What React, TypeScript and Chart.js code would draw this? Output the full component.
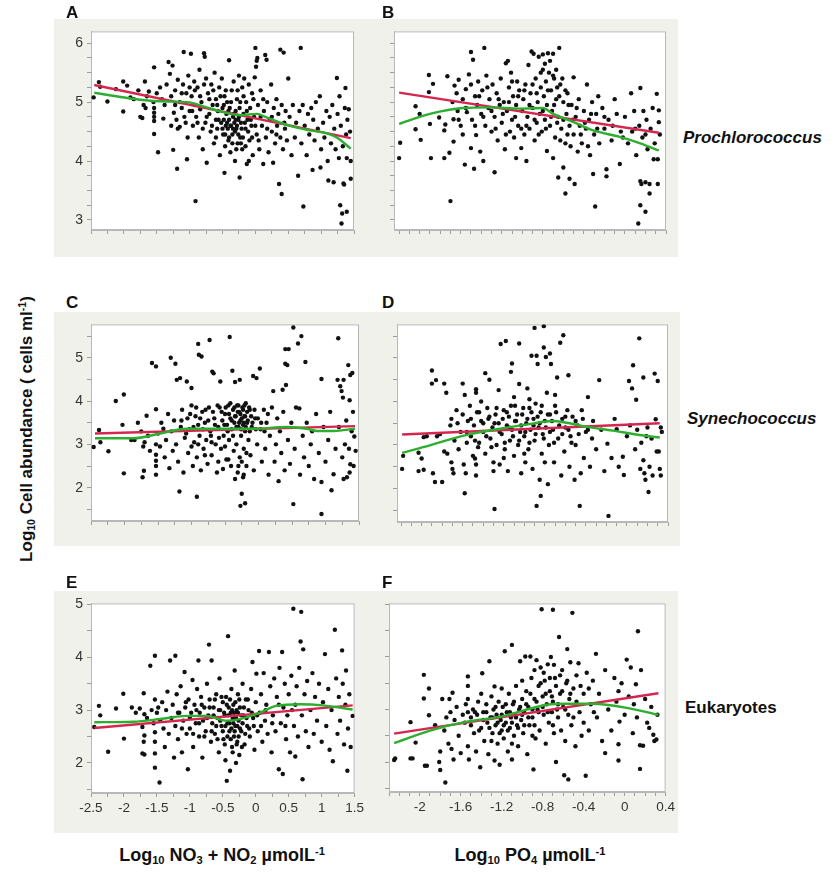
import React, { useEffect, useRef } from 'react';
import Chart from 'chart.js/auto';

type Pt = [number, number];

// Prochlorococcus vs NO3+NO2 (A)
const aPoints: Pt[] = [
  [-2.46,5.08],[-2.38,5.34],[-2.36,5.26],[-2.25,5.01],[-2.12,5.22],[-2.01,5.35],[-2.01,4.84],[-1.95,5.28],[-1.9,5.08],[-1.85,5.05],
  [-1.78,5.2],[-1.75,4.75],[-1.72,4.73],[-1.7,4.95],[-1.68,5.35],[-1.67,4.9],[-1.65,5.1],[-1.62,5.18],
  [-1.54,5.59],[-1.54,4.46],[-1.54,4.68],[-1.54,4.75],[-1.54,4.82],[-1.54,4.9],[-1.55,5.0],[-1.5,5.15],[-1.48,4.15],[-1.45,5.25],
  [-1.42,5.05],[-1.4,4.72],[-1.38,4.95],[-1.35,5.3],[-1.32,5.68],[-1.3,5.48],[-1.28,4.6],[-1.26,5.62],[-1.25,4.19],[-1.24,4.82],
  [-1.22,5.2],[-1.2,4.7],[-1.19,3.87],[-1.18,5.38],[-1.15,4.58],[-1.15,5.0],[-1.12,4.9],[-1.1,5.3],[-1.09,5.85],[-1.08,4.75],
  [-1.05,5.15],[-1.04,4.03],[-1.03,4.4],[-1.02,5.45],[-1.0,4.85],
  [-0.98,5.82],[-0.97,5.1],[-0.95,4.6],[-0.93,5.35],[-0.92,4.95],[-0.91,3.32],[-0.9,4.75],[-0.88,5.25],[-0.86,4.4],[-0.85,5.55],
  [-0.84,4.88],[-0.82,5.0],[-0.8,4.2],[-0.78,5.83],[-0.77,5.77],[-0.76,4.65],[-0.75,5.4],[-0.74,3.97],[-0.72,5.15],[-0.7,4.8],
  [-0.68,4.5],[-0.67,5.3],[-0.65,4.95],[-0.63,4.3],[-0.62,5.5],[-0.6,4.7],[-0.6,5.05],[-0.58,4.55],[-0.57,4.85],[-0.55,5.25],
  [-0.54,4.1],[-0.52,4.65],[-0.51,5.4],[-0.5,4.9],
  [-0.49,4.45],[-0.48,4.7],[-0.47,3.8],[-0.47,5.1],[-0.46,4.25],[-0.45,4.6],[-0.44,4.8],[-0.43,5.0],[-0.42,4.55],[-0.41,4.35],
  [-0.4,5.71],[-0.4,4.7],[-0.39,4.9],[-0.38,4.15],[-0.37,4.6],[-0.36,5.2],[-0.35,4.45],[-0.34,4.75],[-0.33,5.35],[-0.32,4.65],
  [-0.31,4.0],[-0.3,4.85],[-0.29,4.55],[-0.28,5.05],[-0.27,4.3],[-0.26,4.7],[-0.25,5.45],[-0.24,3.72],[-0.24,4.9],[-0.23,4.4],
  [-0.22,4.65],[-0.2,5.25],[-0.2,4.2],[-0.18,4.8],[-0.17,5.4],[-0.15,4.55],[-0.14,5.0],[-0.13,3.95],[-0.12,4.7],[-0.1,5.3],
  [-0.09,4.35],[-0.08,4.9],[-0.06,4.6],[-0.05,5.15],[-0.04,4.1],[-0.02,4.75],[-0.01,5.42],
  [0.0,5.92],[0.01,5.6],[0.02,5.7],[0.03,5.75],[0.02,4.45],[0.04,4.95],[0.06,4.2],[0.08,5.2],[0.1,4.6],[0.12,3.95],
  [0.13,4.85],[0.15,5.8],[0.16,4.4],[0.17,5.72],[0.18,5.0],[0.2,4.15],[0.22,4.7],[0.24,5.3],[0.25,4.5],[0.27,3.97],
  [0.28,4.9],[0.3,4.3],[0.32,5.05],[0.33,4.6],[0.35,4.8],[0.36,3.61],[0.38,5.89],[0.38,4.4],[0.4,3.44],[0.4,4.95],
  [0.42,4.2],[0.43,5.84],[0.44,4.65],[0.46,4.85],[0.48,4.35],[0.5,5.4],
  [0.52,4.75],[0.55,4.1],[0.57,4.95],[0.6,4.4],[0.62,4.65],[0.65,3.75],[0.67,4.85],[0.69,5.92],[0.7,4.3],[0.72,4.95],
  [0.73,3.23],[0.75,4.6],[0.78,4.1],[0.8,4.8],[0.82,4.45],[0.85,4.9],[0.87,3.85],[0.88,4.7],[0.9,4.35],[0.92,5.0],
  [0.95,4.55],[0.98,5.1],[0.99,3.89],[1.0,4.2],
  [1.03,4.65],[1.05,4.4],[1.08,4.85],[1.1,4.0],[1.11,3.67],[1.13,4.75],[1.15,4.3],[1.17,4.95],[1.19,3.64],[1.2,4.55],
  [1.22,4.2],[1.24,5.41],[1.25,4.8],[1.27,4.05],[1.28,5.1],[1.29,3.25],[1.3,4.6],[1.31,2.94],[1.32,3.11],[1.33,4.25],
  [1.34,3.62],[1.35,3.6],[1.36,4.9],[1.37,5.24],[1.38,4.45],[1.39,3.14],[1.39,4.05],[1.4,4.7],[1.42,4.88],[1.44,4.5],
  [1.45,4.0],[1.45,3.7],
  [-1.28,5.1],[-1.22,4.95],[-1.18,4.55],[-1.12,5.15],[-1.06,4.65],[-1.0,5.25],[-0.96,4.85],[-0.92,5.2],[-0.88,4.65],[-0.84,5.1],
  [-0.8,4.55],[-0.78,5.3],[-0.74,4.75],[-0.7,5.05],[-0.66,4.6],[-0.64,5.2],[-0.6,4.4],[-0.58,4.95],[-0.56,4.7],[-0.53,5.1],
  [-0.5,4.55],[-0.48,4.95],[-0.46,4.45],[-0.45,5.2],[-0.43,4.65],[-0.41,4.85],[-0.4,4.4],[-0.38,4.6],[-0.37,5.0],[-0.35,4.3],
  [-0.34,4.55],[-0.33,4.8],[-0.31,4.5],[-0.3,4.7],[-0.29,4.2],[-0.28,4.6],[-0.27,5.2],[-0.26,4.45],[-0.25,4.75],[-0.23,5.0],
  [-0.22,4.3],[-0.21,4.55],[-0.19,4.4],[-0.18,5.1],[-0.16,4.65],[-0.15,4.25],[-0.13,4.85],[-0.11,4.5],[-0.1,4.0],[-0.07,4.7],
  [-0.05,4.4],[-0.03,5.05],[0.0,4.6],[0.05,4.35],[0.08,4.75],[0.12,5.05],[0.18,4.55],[0.25,4.75],[0.32,4.45],[0.45,4.55],
];
const aRed: Pt[] = [[-2.45,5.29],[1.45,4.39]];
const aGreen: Pt[] = [[-2.45,5.16],[-1.75,5.04],[-1.35,5.01],[-1.04,5.0],[-0.74,4.91],[-0.49,4.83],[-0.23,4.78],[0.02,4.8],[0.17,4.74],[0.38,4.65],[0.58,4.58],[0.84,4.52],[1.09,4.47],[1.24,4.4],[1.45,4.21]];

// Prochlorococcus vs PO4 (B)
const bPoints: Pt[] = [
  [-2.2,4.05],[-2.19,4.31],[-2.04,4.93],[-2.04,4.54],[-2.0,4.8],[-1.99,4.36],[-1.91,5.46],[-1.91,5.17],[-1.87,5.31],[-1.9,4.63],
  [-1.89,4.05],[-1.81,4.74],[-1.76,4.05],[-1.76,4.52],[-1.75,4.62],[-1.73,5.44],[-1.7,3.32],[-1.71,4.14],[-1.68,5.0],[-1.67,4.33],
  [-1.67,4.71],[-1.66,5.28],[-1.64,5.15],[-1.62,5.38],[-1.63,4.85],[-1.6,4.6],[-1.58,5.05],[-1.56,3.94],[-1.54,4.83],[-1.55,5.22],
  [-1.52,5.47],[-1.5,5.85],[-1.48,5.72],[-1.5,4.22],[-1.49,4.7],[-1.47,3.87],[-1.46,5.1],[-1.45,4.44],[-1.44,4.95],[-1.43,5.35],
  [-1.41,4.16],[-1.4,4.8],[-1.39,5.2],[-1.37,5.92],[-1.38,4.0],[-1.36,4.6],[-1.35,5.45],[-1.33,4.9],[-1.32,5.05],[-1.3,4.5],
  [-1.29,5.3],[-1.27,3.81],[-1.27,4.75],[-1.25,5.15],[-1.24,4.35],[-1.22,4.95],[-1.21,5.4],[-1.2,4.65],[-1.18,5.0],[-1.17,4.2],
  [-1.16,5.66],[-1.14,5.7],[-1.15,4.85],[-1.13,5.25],[-1.12,4.5],[-1.11,5.5],[-1.1,4.7],[-1.09,5.1],[-1.08,4.4],[-1.06,4.05],
  [-1.06,4.95],[-1.05,5.35],[-1.04,4.6],[-1.03,5.2],[-1.01,4.22],[-1.0,4.85],[-0.99,5.05],[-0.98,4.45],[-0.97,5.3],[-0.96,4.0],
  [-0.95,4.75],[-0.94,5.63],[-0.93,4.55],[-0.92,5.15],[-0.91,5.86],[-0.9,4.9],[-0.89,5.82],[-0.88,4.35],[-0.87,5.4],[-0.86,4.65],
  [-0.85,5.0],[-0.84,5.77],[-0.83,4.8],[-0.82,5.25],[-0.81,4.5],[-0.8,5.81],[-0.8,5.55],[-0.79,5.1],[-0.78,4.7],[-0.77,5.35],
  [-0.76,4.17],[-0.76,4.95],[-0.75,5.83],[-0.74,5.5],[-0.73,4.6],[-0.72,5.2],[-0.71,4.85],[-0.7,5.82],[-0.7,4.05],[-0.69,5.4],
  [-0.68,4.4],[-0.67,5.05],[-0.66,5.25],[-0.65,3.72],[-0.65,4.75],[-0.64,5.92],[-0.63,5.3],[-0.62,4.55],[-0.6,3.89],[-0.6,5.0],
  [-0.58,3.45],[-0.58,4.3],[-0.57,4.8],[-0.56,5.15],[-0.54,3.7],[-0.54,4.6],[-0.52,4.95],[-0.5,5.42],[-0.5,4.45],[-0.49,3.61],
  [-0.48,4.75],[-0.46,4.16],[-0.45,5.05],[-0.44,4.6],[-0.42,4.3],[-0.4,4.85],[-0.38,4.55],[-0.37,5.3],[-0.35,4.7],[-0.34,4.1],
  [-0.32,5.0],[-0.31,3.78],[-0.3,4.45],[-0.29,3.23],[-0.28,4.8],[-0.26,5.1],[-0.25,4.3],[-0.22,4.9],[-0.2,4.55],[-0.18,3.86],
  [-0.18,3.74],[-0.16,4.7],[-0.13,4.35],[-0.1,5.05],[-0.08,4.8],[-0.05,3.95],[-0.04,4.5],[0.0,4.75],[0.03,4.3],[0.06,5.15],
  [0.07,4.5],[0.09,4.85],[0.11,4.1],[0.13,2.94],[0.14,4.6],[0.15,5.24],[0.15,3.66],[0.15,3.25],[0.16,3.61],[0.17,4.4],
  [0.18,4.85],[0.2,3.64],[0.2,3.14],[0.21,4.7],[0.22,4.2],[0.24,3.45],[0.24,3.61],[0.25,4.55],[0.27,4.9],[0.28,4.03],
  [0.29,4.3],[0.31,5.14],[0.32,4.03],[0.32,3.61],[0.33,4.86],[0.33,4.66],[0.34,4.45],
  [-1.62,4.7],[-1.58,4.45],[-1.55,4.9],[-1.5,5.3],[-1.46,4.6],[-1.42,5.1],[-1.38,4.75],[-1.34,5.25],[-1.3,4.85],[-1.26,4.55],
  [-1.23,5.05],[-1.19,4.8],[-1.16,4.45],[-1.13,5.0],[-1.1,5.35],[-1.07,4.75],[-1.04,5.1],[-1.01,4.55],[-0.98,5.2],[-0.96,4.6],
  [-0.93,4.95],[-0.9,5.3],[-0.88,4.7],[-0.86,5.15],[-0.84,4.45],[-0.82,5.5],[-0.8,4.85],[-0.78,5.65],[-0.77,4.55],[-0.75,5.2],
  [-0.73,5.7],[-0.72,4.75],[-0.7,5.45],[-0.69,4.95],[-0.67,5.55],[-0.66,4.65],[-0.64,5.1],[-0.63,4.35],[-0.61,5.4],[-0.6,4.7],
  [-0.58,5.2],[-0.56,4.45],[-0.55,4.95],[-0.53,4.25],[-0.51,4.7],[-0.47,4.9],[-0.43,4.45],[-0.39,4.65],[-0.36,4.25],[-0.33,4.8],
  [-0.27,4.55],[-0.2,4.75],[-0.12,4.6],[-0.02,4.4],[0.1,4.55],[0.2,4.45],
];
const bRed: Pt[] = [[-2.2,5.16],[0.33,4.48]];
const bGreen: Pt[] = [[-2.2,4.63],[-1.9,4.8],[-1.58,4.9],[-1.32,4.91],[-1.02,4.89],[-0.8,4.9],[-0.7,4.8],[-0.5,4.66],[-0.31,4.52],[-0.05,4.41],[0.15,4.3],[0.33,4.18]];

// Synechococcus vs NO3+NO2 (C)
const cPoints: Pt[] = [
  [-2.46,2.94],[-2.38,3.33],[-2.36,3.05],[-2.24,2.84],[-2.13,4.0],[-2.01,4.15],[-2.03,3.45],[-2.01,2.33],[-1.9,3.1],[-1.85,3.1],
  [-1.8,3.5],[-1.75,3.3],[-1.73,2.24],[-1.71,2.39],[-1.72,2.95],[-1.7,3.05],[-1.67,3.66],[-1.65,3.2],[-1.62,2.85],[-1.59,4.88],
  [-1.53,4.8],[-1.53,3.81],[-1.53,2.76],[-1.53,2.62],[-1.53,2.5],[-1.53,2.3],[-1.53,3.0],[-1.5,3.25],[-1.47,2.95],[-1.45,3.5],
  [-1.42,3.36],[-1.4,2.7],[-1.38,3.1],[-1.35,3.7],[-1.33,2.45],[-1.31,5.0],[-1.3,3.3],[-1.28,2.85],[-1.26,3.55],[-1.24,4.86],
  [-1.23,3.0],[-1.22,4.49],[-1.2,2.6],[-1.18,1.91],[-1.17,4.53],[-1.16,3.4],[-1.14,3.8],[-1.12,2.35],[-1.1,3.15],[-1.07,4.45],
  [-1.06,3.6],[-1.05,2.8],[-1.03,3.35],[-1.0,4.3],[-1.0,3.9],[-0.98,2.5],[-0.96,3.05],[-0.94,3.65],[-0.92,1.79],[-0.92,2.7],
  [-0.9,5.32],[-0.9,3.45],[-0.89,5.07],[-0.88,3.2],[-0.86,2.4],[-0.85,5.03],[-0.84,3.75],[-0.82,2.9],[-0.8,3.5],[-0.78,3.1],
  [-0.76,2.55],[-0.74,3.85],[-0.73,5.41],[-0.72,3.3],[-0.7,2.75],[-0.69,4.68],[-0.67,4.64],[-0.66,3.6],[-0.64,3.0],[-0.62,2.35],
  [-0.6,3.4],[-0.58,3.85],[-0.57,4.45],[-0.56,2.9],[-0.54,3.55],[-0.53,2.43],[-0.52,3.2],[-0.5,3.7],[-0.48,2.65],[-0.47,3.45],
  [-0.45,3.9],[-0.44,3.1],[-0.43,5.48],[-0.42,3.6],[-0.41,2.5],[-0.4,3.35],[-0.39,4.7],[-0.38,3.8],[-0.37,2.85],[-0.36,3.5],
  [-0.35,4.44],[-0.34,3.65],[-0.33,3.0],[-0.32,3.9],[-0.31,2.35],[-0.3,3.4],[-0.29,3.75],[-0.28,4.49],[-0.28,2.7],[-0.27,1.58],
  [-0.27,3.55],[-0.26,3.2],[-0.25,1.86],[-0.24,3.85],[-0.23,2.24],[-0.23,3.45],[-0.22,2.9],[-0.21,3.65],[-0.2,1.64],[-0.2,3.3],
  [-0.19,3.95],[-0.18,2.5],[-0.17,3.5],[-0.15,3.1],[-0.13,3.8],[-0.12,2.75],[-0.1,3.4],[-0.08,4.58],[-0.07,2.4],[-0.05,3.6],
  [-0.03,4.53],[-0.02,3.0],[0.02,4.75],[0.03,3.35],[0.05,2.6],[0.08,3.8],[0.1,2.9],[0.12,3.5],[0.15,2.3],[0.17,3.2],
  [0.2,3.85],[0.22,4.23],[0.24,2.6],[0.26,3.0],[0.28,3.6],[0.3,2.15],[0.32,3.3],[0.34,2.8],[0.36,4.26],[0.37,3.75],
  [0.39,2.4],[0.4,5.2],[0.4,4.86],[0.41,4.37],[0.43,4.83],[0.44,3.1],[0.45,5.2],[0.47,2.55],[0.49,3.5],[0.52,5.7],
  [0.52,1.62],[0.54,2.9],[0.56,3.85],[0.59,5.33],[0.61,3.83],[0.62,2.3],[0.64,5.5],[0.66,3.2],[0.68,2.7],[0.7,4.9],
  [0.72,3.5],[0.75,2.5],[0.78,3.0],[0.8,3.3],[0.83,2.2],[0.86,3.7],[0.9,2.8],[0.94,4.51],[0.94,2.13],[0.94,1.39],
  [0.97,3.4],[1.0,2.6],[1.04,3.1],[1.07,3.75],[1.09,1.94],[1.12,2.31],[1.15,2.9],[1.18,4.49],[1.19,5.45],[1.2,3.4],
  [1.22,4.34],[1.24,4.23],[1.25,2.7],[1.26,4.08],[1.27,4.49],[1.27,2.2],[1.29,3.0],[1.31,3.55],[1.32,2.24],[1.34,4.83],
  [1.35,2.9],[1.36,2.35],[1.36,4.02],[1.37,2.54],[1.37,4.6],[1.39,3.3],[1.4,4.65],[1.41,3.75],[1.42,2.5],[1.43,3.18],
  [1.45,2.85],
  [-1.15,3.55],[-1.08,3.25],[-1.02,3.7],[-0.97,3.4],[-0.93,3.85],[-0.87,3.6],[-0.83,3.35],[-0.79,3.8],[-0.75,3.55],[-0.71,3.2],
  [-0.68,3.75],[-0.65,3.45],[-0.61,3.9],[-0.59,3.15],[-0.55,3.75],[-0.51,3.45],[-0.49,3.85],[-0.46,3.3],[-0.44,3.7],[-0.42,3.95],
  [-0.4,3.55],[-0.38,3.2],[-0.36,3.85],[-0.35,3.65],[-0.33,3.4],[-0.31,3.75],[-0.3,3.9],[-0.29,3.5],[-0.27,3.7],[-0.26,3.35],
  [-0.25,3.6],[-0.23,3.8],[-0.22,3.5],[-0.21,3.9],[-0.2,3.65],[-0.19,3.4],[-0.17,3.75],[-0.16,3.55],[-0.14,3.85],[-0.13,3.3],
  [-0.11,3.65],[-0.09,3.5],[-0.06,3.8],[-0.04,3.35],[-0.01,3.6],[0.04,3.5],[0.09,3.3],[0.14,3.7],[-0.3,2.5],[-0.25,2.6],
  [-0.22,2.3],[-0.18,2.8],[-0.35,2.2],[-0.45,2.65],[-0.6,2.6],[-0.8,2.75],[-1.0,2.95],[-0.9,3.0],[-0.7,3.05],[-0.5,2.95],
];
const cRed: Pt[] = [[-2.44,3.25],[1.44,3.42]];
const cGreen: Pt[] = [[-2.44,3.14],[-1.87,3.14],[-1.47,3.25],[-1.07,3.36],[-0.62,3.36],[-0.08,3.36],[0.42,3.4],[0.72,3.36],[0.87,3.31],[1.12,3.31],[1.44,3.36]];

// Synechococcus vs PO4 (D)
const dPoints: Pt[] = [
  [-2.19,2.45],[-2.18,2.75],[-2.03,2.82],[-2.03,2.4],[-2.0,2.69],[-1.98,2.43],[-1.98,3.18],[-1.95,3.2],[-1.9,4.71],[-1.9,4.41],
  [-1.86,4.49],[-1.89,2.35],[-1.87,2.15],[-1.85,3.2],[-1.82,3.25],[-1.8,2.15],[-1.78,4.41],[-1.76,4.2],[-1.78,2.85],[-1.75,2.8],
  [-1.72,3.45],[-1.71,3.6],[-1.71,2.6],[-1.7,2.45],[-1.69,2.35],[-1.68,3.1],[-1.66,3.8],[-1.65,3.5],[-1.64,2.9],[-1.62,3.3],
  [-1.6,4.41],[-1.6,3.7],[-1.59,2.55],[-1.58,4.15],[-1.58,1.89],[-1.57,2.35],[-1.56,3.05],[-1.55,3.55],[-1.53,3.9],[-1.52,3.2],
  [-1.5,2.75],[-1.49,3.45],[-1.47,4.28],[-1.47,4.2],[-1.48,2.69],[-1.47,2.55],[-1.47,2.3],[-1.46,3.75],[-1.44,3.05],[-1.42,3.55],
  [-1.4,3.3],[-1.38,4.65],[-1.38,2.8],[-1.36,3.85],[-1.35,3.6],[-1.34,4.5],[-1.33,3.15],[-1.31,3.4],[-1.3,2.4],[-1.29,1.53],
  [-1.28,3.7],[-1.27,3.0],[-1.25,4.26],[-1.25,3.5],[-1.24,2.55],[-1.23,5.32],[-1.22,3.25],[-1.2,3.8],[-1.19,2.9],[-1.18,5.39],
  [-1.17,3.45],[-1.16,2.4],[-1.15,3.65],[-1.14,3.1],[-1.13,4.68],[-1.12,4.87],[-1.12,3.35],[-1.1,2.75],[-1.09,3.9],[-1.08,3.55],
  [-1.06,3.0],[-1.05,5.33],[-1.05,4.4],[-1.04,3.3],[-1.03,2.35],[-1.02,3.7],[-1.0,3.2],[-0.99,2.6],[-0.98,3.5],[-0.97,4.3],
  [-0.96,2.9],[-0.95,3.85],[-0.94,3.35],[-0.93,5.05],[-0.92,2.45],[-0.91,3.6],[-0.9,5.69],[-0.9,3.1],[-0.89,3.95],[-0.88,5.05],
  [-0.88,1.6],[-0.87,4.86],[-0.86,3.4],[-0.85,2.2],[-0.84,1.83],[-0.84,3.75],[-0.83,2.8],[-0.82,3.25],[-0.81,5.73],[-0.81,5.24],
  [-0.8,3.55],[-0.79,5.02],[-0.78,4.2],[-0.77,2.1],[-0.76,3.0],[-0.75,5.1],[-0.75,3.7],[-0.74,4.86],[-0.72,3.35],[-0.71,2.6],
  [-0.7,3.9],[-0.68,4.55],[-0.67,3.15],[-0.65,5.35],[-0.64,2.3],[-0.63,3.6],[-0.62,5.52],[-0.61,2.85],[-0.6,3.4],[-0.58,3.8],
  [-0.57,4.6],[-0.56,2.5],[-0.55,3.2],[-0.53,3.65],[-0.51,2.2],[-0.5,3.0],[-0.48,3.45],[-0.46,1.6],[-0.45,2.35],[-0.44,3.8],
  [-0.42,2.7],[-0.4,3.3],[-0.38,4.1],[-0.36,2.5],[-0.33,3.55],[-0.3,2.9],[-0.27,4.49],[-0.25,3.35],[-0.22,2.4],[-0.19,3.03],
  [-0.18,1.37],[-0.15,2.7],[-0.12,3.6],[-0.1,3.36],[-0.08,2.5],[-0.04,2.73],[-0.03,2.31],[0.0,3.2],[0.02,4.47],[0.03,3.45],
  [0.05,4.3],[0.06,4.83],[0.08,2.9],[0.09,4.04],[0.1,3.35],[0.12,5.45],[0.13,2.45],[0.14,3.05],[0.16,4.55],[0.16,2.65],
  [0.17,2.35],[0.18,2.2],[0.19,3.2],[0.2,3.4],[0.21,1.92],[0.22,2.5],[0.24,3.15],[0.25,2.3],[0.27,4.64],[0.28,3.59],
  [0.29,2.85],[0.3,4.47],[0.31,2.85],[0.32,2.45],[0.33,3.4],[0.33,2.3],[0.34,3.3],
  [-1.56,3.3],[-1.52,3.6],[-1.48,3.1],[-1.44,3.75],[-1.4,3.5],[-1.37,3.2],[-1.34,3.65],[-1.32,2.95],[-1.29,3.5],[-1.27,3.85],
  [-1.24,3.3],[-1.21,3.6],[-1.19,3.05],[-1.17,3.75],[-1.15,3.4],[-1.13,3.9],[-1.11,3.2],[-1.09,3.55],[-1.07,3.7],[-1.05,3.1],
  [-1.03,3.45],[-1.01,3.85],[-0.99,3.3],[-0.97,3.6],[-0.95,3.05],[-0.93,3.75],[-0.91,3.45],[-0.89,3.25],[-0.87,3.65],[-0.85,3.5],
  [-0.83,3.9],[-0.81,3.15],[-0.79,3.4],[-0.77,3.7],[-0.75,3.3],[-0.73,3.55],[-0.71,3.05],[-0.69,3.75],[-0.66,3.45],[-0.63,3.25],
  [-0.6,3.65],[-0.57,3.35],[-0.54,3.05],[-0.5,3.55],[-0.47,3.25],[-0.43,3.6],[-0.38,3.35],[-0.34,3.15],[-1.45,2.95],[-1.2,2.7],
  [-1.0,2.8],[-0.8,2.6],[-1.3,2.6],[-1.1,4.1],[-0.95,4.05],[-0.7,4.15],[-1.42,4.0],
];
const dRed: Pt[] = [[-2.19,3.24],[0.32,3.5]];
const dGreen: Pt[] = [[-2.19,2.82],[-1.92,2.99],[-1.6,3.21],[-1.27,3.36],[-0.95,3.48],[-0.72,3.55],[-0.59,3.51],[-0.4,3.42],[-0.14,3.33],[0.12,3.23],[0.32,3.17]];

// Eukaryotes vs NO3+NO2 (E)
const ePoints: Pt[] = [
  [-2.45,2.68],[-2.38,3.08],[-2.36,2.9],[-2.24,2.21],[-2.12,3.03],[-2.01,3.31],[-2.0,2.46],[-1.88,3.05],[-1.82,2.95],[-1.76,3.03],
  [-1.7,3.32],[-1.69,2.92],[-1.72,2.68],[-1.69,2.52],[-1.7,2.4],[-1.72,2.18],[-1.69,2.16],[-1.65,2.85],[-1.6,3.84],[-1.58,3.0],
  [-1.55,2.75],[-1.53,4.03],[-1.53,3.2],[-1.53,2.58],[-1.53,2.4],[-1.53,2.18],[-1.53,1.91],[-1.5,2.95],[-1.48,3.05],[-1.46,1.63],
  [-1.45,2.8],[-1.42,3.15],[-1.4,2.65],[-1.38,2.3],[-1.36,3.0],[-1.34,3.35],[-1.32,2.55],[-1.3,3.94],[-1.28,2.85],[-1.26,3.1],
  [-1.24,2.1],[-1.22,4.03],[-1.22,2.7],[-1.2,3.3],[-1.18,2.45],[-1.16,2.95],[-1.14,3.45],[-1.12,2.2],[-1.1,2.8],[-1.08,3.72],
  [-1.07,3.05],[-1.05,2.55],[-1.03,1.88],[-1.02,3.2],[-1.0,2.65],[-0.98,2.95],[-0.96,3.57],[-0.95,2.3],[-0.93,3.1],[-0.91,2.75],
  [-0.89,3.4],[-0.87,3.94],[-0.86,2.5],[-0.85,2.95],[-0.83,3.25],[-0.81,2.1],[-0.8,2.8],[-0.78,3.05],[-0.76,2.6],[-0.74,3.5],
  [-0.72,2.9],[-0.71,4.24],[-0.7,3.2],[-0.68,2.4],[-0.67,3.94],[-0.66,2.75],[-0.64,3.05],[-0.62,2.55],[-0.6,3.3],[-0.58,2.85],
  [-0.56,2.2],[-0.55,3.6],[-0.54,3.0],[-0.52,2.7],[-0.5,3.15],[-0.49,2.45],[-0.47,2.9],[-0.46,2.05],[-0.45,3.25],[-0.44,1.66],
  [-0.43,2.75],[-0.42,4.4],[-0.41,3.05],[-0.4,2.6],[-0.39,1.85],[-0.38,2.95],[-0.37,3.4],[-0.36,2.3],[-0.35,2.85],[-0.34,3.1],
  [-0.33,2.5],[-0.32,3.75],[-0.31,2.7],[-0.3,2.0],[-0.29,3.0],[-0.28,2.4],[-0.27,3.3],[-0.26,2.8],[-0.25,2.15],[-0.24,3.05],
  [-0.22,2.6],[-0.2,3.5],[-0.19,2.9],[-0.17,2.35],[-0.15,3.2],[-0.13,2.7],[-0.11,3.0],[-0.09,2.5],[-0.07,3.4],[-0.05,3.91],
  [-0.04,2.85],[-0.02,2.25],[0.0,3.15],[0.01,3.69],[0.03,2.6],[0.05,4.12],[0.06,2.95],[0.08,3.3],[0.1,2.4],[0.12,3.7],
  [0.14,2.8],[0.16,3.1],[0.18,2.55],[0.2,4.1],[0.22,3.45],[0.24,2.2],[0.26,2.9],[0.28,3.6],[0.3,2.6],[0.32,3.25],
  [0.35,1.88],[0.36,3.8],[0.38,2.75],[0.4,4.1],[0.41,1.79],[0.42,3.05],[0.44,3.5],[0.46,2.45],[0.48,2.9],[0.5,3.3],
  [0.52,2.2],[0.54,3.65],[0.57,4.92],[0.58,2.7],[0.6,2.12],[0.6,3.1],[0.62,3.45],[0.64,2.5],[0.66,3.8],[0.68,4.3],
  [0.69,4.86],[0.7,2.9],[0.71,1.69],[0.72,4.15],[0.74,3.3],[0.76,2.6],[0.78,3.55],[0.8,2.3],[0.83,3.0],[0.86,3.7],
  [0.88,2.55],[0.9,3.25],[0.93,2.8],[0.96,3.5],[1.0,2.4],[1.02,3.15],[1.05,4.06],[1.07,2.7],[1.1,3.4],[1.12,2.25],
  [1.15,3.0],[1.17,2.03],[1.2,4.52],[1.22,3.6],[1.24,2.55],[1.26,3.25],[1.28,2.8],[1.31,4.13],[1.32,3.5],[1.34,2.35],
  [1.36,3.1],[1.37,3.75],[1.39,1.85],[1.4,2.65],[1.42,3.3],[1.44,2.3],[1.47,2.89],
  [-1.18,2.95],[-1.12,2.65],[-1.06,3.15],[-1.0,2.85],[-0.95,2.55],[-0.9,3.0],[-0.86,2.75],[-0.82,3.1],[-0.78,2.5],[-0.74,2.85],
  [-0.7,3.05],[-0.67,2.6],[-0.64,2.9],[-0.62,3.2],[-0.6,2.7],[-0.58,2.45],[-0.56,3.0],[-0.54,2.8],[-0.52,3.25],[-0.5,2.6],
  [-0.48,2.95],[-0.47,2.35],[-0.46,2.7],[-0.44,3.1],[-0.43,2.5],[-0.42,2.9],[-0.4,2.75],[-0.39,3.2],[-0.38,2.45],[-0.37,2.65],
  [-0.36,3.0],[-0.35,2.2],[-0.34,2.75],[-0.33,2.95],[-0.32,2.6],[-0.31,3.15],[-0.3,2.85],[-0.29,2.35],[-0.28,2.7],[-0.27,2.95],
  [-0.26,2.5],[-0.25,3.2],[-0.24,2.65],[-0.22,2.9],[-0.21,2.3],[-0.2,2.75],[-0.18,3.05],[-0.16,2.55],[-0.14,2.85],[-0.12,3.2],
  [-0.1,2.65],[-0.06,2.95],[-0.03,2.7],[0.02,2.9],[0.08,2.7],[0.15,3.0],[0.25,2.75],[0.35,3.1],[0.45,2.7],[0.55,3.0],
];
const eRed: Pt[] = [[-2.45,2.66],[1.47,3.09]];
const eGreen: Pt[] = [[-2.45,2.77],[-1.86,2.78],[-1.45,2.83],[-1.05,2.89],[-0.75,2.89],[-0.44,2.8],[-0.24,2.83],[0.06,2.95],[0.31,3.08],[0.67,3.11],[1.02,3.09],[1.47,3.01]];

// Eukaryotes vs PO4 (F)
const fPoints: Pt[] = [
  [-2.25,2.04],[-2.24,2.07],[-2.09,2.76],[-2.09,2.07],[-2.07,2.07],[-2.04,2.37],[-1.96,3.66],[-1.96,3.21],[-1.95,1.93],[-1.93,1.93],
  [-1.91,3.4],[-1.91,2.89],[-1.85,2.7],[-1.81,2.0],[-1.8,1.85],[-1.8,2.2],[-1.78,3.2],[-1.76,2.6],[-1.75,1.61],[-1.74,2.85],
  [-1.72,2.35],[-1.71,3.2],[-1.7,2.95],[-1.69,2.25],[-1.68,3.32],[-1.67,2.05],[-1.66,2.8],[-1.64,3.05],[-1.62,2.5],[-1.6,2.17],
  [-1.58,2.9],[-1.56,2.75],[-1.55,3.1],[-1.53,3.63],[-1.53,3.45],[-1.53,3.2],[-1.53,2.95],[-1.53,2.3],[-1.52,2.05],[-1.5,2.85],
  [-1.48,3.0],[-1.47,2.55],[-1.45,2.2],[-1.44,2.9],[-1.43,3.15],[-1.41,1.9],[-1.4,2.65],[-1.39,3.69],[-1.38,2.95],[-1.37,2.4],
  [-1.35,3.1],[-1.34,2.75],[-1.33,2.15],[-1.32,3.92],[-1.31,2.85],[-1.3,3.25],[-1.29,2.55],[-1.28,3.0],[-1.27,3.44],[-1.27,2.03],
  [-1.26,2.7],[-1.25,2.9],[-1.24,2.35],[-1.23,3.15],[-1.22,1.95],[-1.21,2.8],[-1.2,2.6],[-1.19,3.05],[-1.18,2.45],[-1.17,4.11],
  [-1.16,2.75],[-1.15,2.95],[-1.14,2.2],[-1.13,3.3],[-1.12,2.65],[-1.11,2.85],[-1.1,4.23],[-1.1,2.05],[-1.09,3.1],[-1.08,2.5],
  [-1.07,2.9],[-1.06,3.45],[-1.05,2.7],[-1.04,2.3],[-1.03,3.0],[-1.02,3.92],[-1.01,2.8],[-1.0,3.2],[-0.99,2.55],[-0.98,2.95],
  [-0.97,4.01],[-0.96,3.35],[-0.95,2.15],[-0.94,3.05],[-0.93,2.7],[-0.92,4.01],[-0.91,3.6],[-0.9,2.85],[-0.89,1.86],[-0.88,3.2],
  [-0.87,2.45],[-0.86,3.94],[-0.85,3.0],[-0.84,3.45],[-0.83,2.6],[-0.82,3.8],[-0.81,4.91],[-0.8,3.25],[-0.79,2.9],[-0.78,3.55],
  [-0.77,2.35],[-0.76,3.1],[-0.75,3.86],[-0.74,2.75],[-0.73,3.35],[-0.72,4.0],[-0.71,2.95],[-0.7,4.9],[-0.7,3.15],[-0.69,2.55],
  [-0.68,3.6],[-0.67,2.0],[-0.66,3.0],[-0.65,2.85],[-0.64,4.38],[-0.63,3.3],[-0.62,2.6],[-0.61,3.75],[-0.6,3.05],[-0.59,1.75],
  [-0.58,2.4],[-0.57,3.5],[-0.56,4.15],[-0.55,1.67],[-0.55,2.9],[-0.54,3.2],[-0.53,3.9],[-0.52,2.7],[-0.51,4.84],[-0.5,3.4],
  [-0.48,2.3],[-0.47,3.65],[-0.45,3.88],[-0.44,2.95],[-0.42,2.5],[-0.4,3.3],[-0.38,1.74],[-0.37,3.7],[-0.35,2.6],[-0.33,3.1],
  [-0.31,3.55],[-0.28,4.06],[-0.27,2.85],[-0.25,3.3],[-0.22,2.4],[-0.19,2.17],[-0.19,3.75],[-0.16,3.0],[-0.13,2.6],[-0.1,3.6],
  [-0.08,3.15],[-0.06,3.35],[-0.05,2.77],[-0.06,2.34],[-0.06,2.03],[-0.03,3.5],[0.0,2.9],[0.02,3.95],[0.04,3.25],[0.06,3.8],
  [0.08,2.55],[0.09,3.1],[0.11,3.48],[0.12,2.85],[0.13,4.49],[0.15,2.32],[0.15,1.87],[0.16,3.75],[0.18,2.31],[0.2,3.2],
  [0.22,2.75],[0.24,2.65],[0.26,3.05],[0.28,2.52],[0.29,2.4],[0.31,2.43],[0.32,2.9],
  [-1.5,2.7],[-1.46,2.95],[-1.42,2.6],[-1.38,2.8],[-1.35,2.95],[-1.32,2.65],[-1.29,2.85],[-1.26,3.05],[-1.24,2.75],[-1.22,2.55],
  [-1.2,2.9],[-1.18,2.7],[-1.16,3.1],[-1.14,2.6],[-1.12,2.95],[-1.1,2.75],[-1.08,3.15],[-1.06,2.85],[-1.04,2.65],[-1.02,3.05],
  [-1.0,2.9],[-0.98,2.7],[-0.96,3.1],[-0.94,2.85],[-0.92,3.3],[-0.9,3.0],[-0.88,2.7],[-0.86,3.15],[-0.84,2.95],[-0.82,3.5],
  [-0.8,3.05],[-0.79,3.7],[-0.77,3.3],[-0.75,2.95],[-0.73,3.6],[-0.71,3.25],[-0.69,3.85],[-0.67,3.45],[-0.65,3.1],[-0.63,3.65],
  [-0.61,3.35],[-0.58,3.0],[-0.56,3.55],[-0.53,3.3],[-0.5,2.85],[-0.47,3.15],[-0.43,3.45],[-0.4,2.75],[-0.35,3.4],[-0.3,2.95],
  [-1.3,2.4],[-1.1,2.35],[-0.9,2.5],[-0.7,2.7],[-1.4,3.3],[-1.2,3.4],[-1.0,3.55],[-0.88,3.75],
];
const fRed: Pt[] = [[-2.25,2.54],[0.33,3.31]];
const fGreen: Pt[] = [[-2.25,2.36],[-1.9,2.6],[-1.54,2.77],[-1.22,2.86],[-0.99,2.98],[-0.76,3.09],[-0.57,3.11],[-0.31,3.11],[-0.18,3.09],[0.02,3.03],[0.33,2.9]];

const FONT = '"Liberation Sans", Arial, Helvetica, sans-serif';
const RED = '#d5264f';
const GREEN = '#2caf2e';
const PANEL_BG = '#f1f1ec';

interface PanelCfg {
  letter: string;
  left: number; top: number; w: number; h: number;
  padL: number; padR: number; padT: number; padB: number;
  xMin: number; xMax: number; xStep: number; xLabelStep: number;
  yMin: number; yMax: number; yStep: number; yLabels: boolean;
  points: Pt[]; red: Pt[]; green: Pt[];
}

const panels: PanelCfg[] = [
  { letter: 'A', left: 54, top: 19, w: 311, h: 238, padL: 37, padR: 11, padT: 8, padB: 27,
    xMin: -2.5, xMax: 1.5, xStep: 0.25, xLabelStep: 0, yMin: 2.83, yMax: 6.2, yStep: 0.25, yLabels: true,
    points: aPoints, red: aRed, green: aGreen },
  { letter: 'B', left: 365, top: 19, w: 313, h: 238, padL: 29, padR: 12, padT: 8, padB: 27,
    xMin: -2.25, xMax: 0.4, xStep: 0.1, xLabelStep: 0, yMin: 2.83, yMax: 6.2, yStep: 0.25, yLabels: false,
    points: bPoints, red: bRed, green: bGreen },
  { letter: 'C', left: 54, top: 312, w: 316, h: 234, padL: 37, padR: 11, padT: 8, padB: 25,
    xMin: -2.5, xMax: 1.5, xStep: 0.25, xLabelStep: 0, yMin: 1.23, yMax: 5.77, yStep: 0.5, yLabels: true,
    points: cPoints, red: cRed, green: cGreen },
  { letter: 'D', left: 370, top: 312, w: 310, h: 234, padL: 27, padR: 12, padT: 8, padB: 24,
    xMin: -2.24, xMax: 0.4, xStep: 0.1, xLabelStep: 0, yMin: 1.23, yMax: 5.77, yStep: 0.5, yLabels: false,
    points: dPoints, red: dRed, green: dGreen },
  { letter: 'E', left: 54, top: 591, w: 313, h: 242, padL: 37, padR: 9, padT: 7, padB: 40,
    xMin: -2.5, xMax: 1.5, xStep: 0.25, xLabelStep: 0.5, yMin: 1.43, yMax: 5.02, yStep: 0.5, yLabels: true,
    points: ePoints, red: eRed, green: eGreen },
  { letter: 'F', left: 367, top: 591, w: 311, h: 242, padL: 22, padR: 11, padT: 7, padB: 41,
    xMin: -2.3, xMax: 0.4, xStep: 0.1, xLabelStep: 0.4, yMin: 1.43, yMax: 5.02, yStep: 0.5, yLabels: false,
    points: fPoints, red: fRed, green: fGreen },
];

const plotBox = {
  id: 'plotBox',
  beforeDraw(chart: any) {
    const { ctx, chartArea: a } = chart;
    ctx.save();
    ctx.fillStyle = '#ffffff';
    ctx.fillRect(a.left, a.top, a.right - a.left, a.bottom - a.top);
    ctx.restore();
  },
  beforeDatasetsDraw(chart: any) {
    const { ctx, chartArea: a } = chart;
    ctx.save();
    ctx.strokeStyle = '#b8b8b8';
    ctx.lineWidth = 1;
    ctx.strokeRect(a.left + 0.5, a.top + 0.5, a.right - a.left - 1, a.bottom - a.top - 1);
    ctx.restore();
  },
};

const isMultiple = (v: number, step: number) => {
  const k = v / step;
  return Math.abs(k - Math.round(k)) < 1e-6;
};

const Panel: React.FC<{ cfg: PanelCfg }> = ({ cfg }) => {
  const chartRef = useRef<HTMLCanvasElement | null>(null);

  useEffect(() => {
    if (!chartRef.current) return;
    const toXY = (p: Pt[]) => p.map(([x, y]) => ({ x, y }));

    const chart = new Chart(chartRef.current, {
      type: 'scatter',
      data: {
        datasets: [
          { data: toXY(cfg.green), showLine: true, borderColor: GREEN, borderWidth: 2.4,
            pointRadius: 0, tension: 0.4, cubicInterpolationMode: 'monotone' } as any,
          { data: toXY(cfg.red), showLine: true, borderColor: RED, borderWidth: 2.4, pointRadius: 0 } as any,
          { data: toXY(cfg.points), pointRadius: 2.2, backgroundColor: '#111111', borderWidth: 0 },
        ],
      },
      options: {
        animation: false,
        responsive: false,
        events: [],
        layout: { padding: { top: cfg.padT, right: cfg.padR, left: 0, bottom: 0 } },
        plugins: { legend: { display: false }, tooltip: { enabled: false } },
        scales: {
          x: {
            type: 'linear',
            min: cfg.xMin,
            max: cfg.xMax,
            afterFit: (s: any) => { s.height = cfg.padB; },
            grid: { drawOnChartArea: false, drawTicks: true, tickLength: 4, color: '#9c9c9c' },
            border: { display: true, color: '#b8b8b8' },
            ticks: {
              stepSize: cfg.xStep,
              autoSkip: false,
              includeBounds: false,
              maxRotation: 0,
              padding: 3,
              color: '#333333',
              font: { family: FONT, size: 13.5 },
              callback: (v: any) => {
                const n = Number(v);
                if (!cfg.xLabelStep || !isMultiple(n, cfg.xLabelStep)) return '';
                return String(Math.round(n * 10) / 10);
              },
            },
          },
          y: {
            type: 'linear',
            min: cfg.yMin,
            max: cfg.yMax,
            afterFit: (s: any) => { s.width = cfg.padL; },
            grid: { drawOnChartArea: false, drawTicks: true, tickLength: 4, color: '#9c9c9c' },
            border: { display: true, color: '#b8b8b8' },
            ticks: {
              stepSize: cfg.yStep,
              autoSkip: false,
              includeBounds: false,
              padding: 4,
              color: '#333333',
              font: { family: FONT, size: 14 },
              callback: (v: any) => {
                const n = Number(v);
                if (!cfg.yLabels || !isMultiple(n, 1)) return '';
                return String(Math.round(n));
              },
            },
          },
        },
      },
      plugins: [plotBox],
    });

    return () => {
      chart.destroy();
    };
  }, [cfg]);

  return (
    <div style={{ position: 'absolute', left: cfg.left, top: cfg.top, width: cfg.w, height: cfg.h, background: PANEL_BG }}>
      <canvas ref={chartRef} width={cfg.w} height={cfg.h} style={{ display: 'block', width: cfg.w, height: cfg.h }} />
    </div>
  );
};

const letterStyle = (left: number, top: number): React.CSSProperties => ({
  position: 'absolute', left, top, fontFamily: FONT, fontWeight: 'bold', fontSize: 17, lineHeight: '17px', color: '#111',
});

const sideStyle = (left: number, top: number, italic: boolean): React.CSSProperties => ({
  position: 'absolute', left, top, fontFamily: FONT, fontWeight: 'bold', fontStyle: italic ? 'italic' : 'normal',
  fontSize: 17, lineHeight: '20px', color: '#111', whiteSpace: 'nowrap',
});

const sub: React.CSSProperties = { fontSize: '0.62em', verticalAlign: '-0.3em' };
const sup: React.CSSProperties = { fontSize: '0.62em', verticalAlign: '0.55em' };

const letterPos: Record<string, [number, number]> = {
  A: [66, 4], B: [382, 4], C: [66, 294], D: [382, 294], E: [66, 574], F: [382, 574],
};

const App: React.FC = () => {
  return (
    <div style={{ position: 'absolute', left: 0, top: 0, width: 835, height: 876, background: '#fff', overflow: 'hidden' }}>
      {panels.map((p) => (
        <Panel key={p.letter} cfg={p} />
      ))}
      {panels.map((p) => (
        <div key={'l' + p.letter} style={letterStyle(letterPos[p.letter][0], letterPos[p.letter][1])}>{p.letter}</div>
      ))}

      <div style={sideStyle(683, 128, true)}>Prochlorococcus</div>
      <div style={sideStyle(687, 409, true)}>Synechococcus</div>
      <div style={sideStyle(685, 698, false)}>Eukaryotes</div>

      <div
        style={{
          position: 'absolute', left: 22 - 170, top: 429 - 11, width: 340, height: 22, lineHeight: '22px',
          textAlign: 'center', transform: 'rotate(-90deg)', fontFamily: FONT, fontWeight: 'bold', fontSize: 17,
          color: '#111', whiteSpace: 'nowrap',
        }}
      >
        Log<span style={sub}>10</span> Cell abundance ( cells ml<span style={sup}>-1</span>)
      </div>

      <div
        style={{
          position: 'absolute', left: 222 - 150, top: 840, width: 300, textAlign: 'center', fontFamily: FONT,
          fontWeight: 'bold', fontSize: 18, lineHeight: '22px', color: '#111', whiteSpace: 'nowrap',
        }}
      >
        Log<span style={sub}>10</span> NO<span style={sub}>3</span> + NO<span style={sub}>2</span> µmolL<span style={sup}>-1</span>
      </div>
      <div
        style={{
          position: 'absolute', left: 530 - 150, top: 840, width: 300, textAlign: 'center', fontFamily: FONT,
          fontWeight: 'bold', fontSize: 18, lineHeight: '22px', color: '#111', whiteSpace: 'nowrap',
        }}
      >
        Log<span style={sub}>10</span> PO<span style={sub}>4</span> µmolL<span style={sup}>-1</span>
      </div>
    </div>
  );
};

export default App;
